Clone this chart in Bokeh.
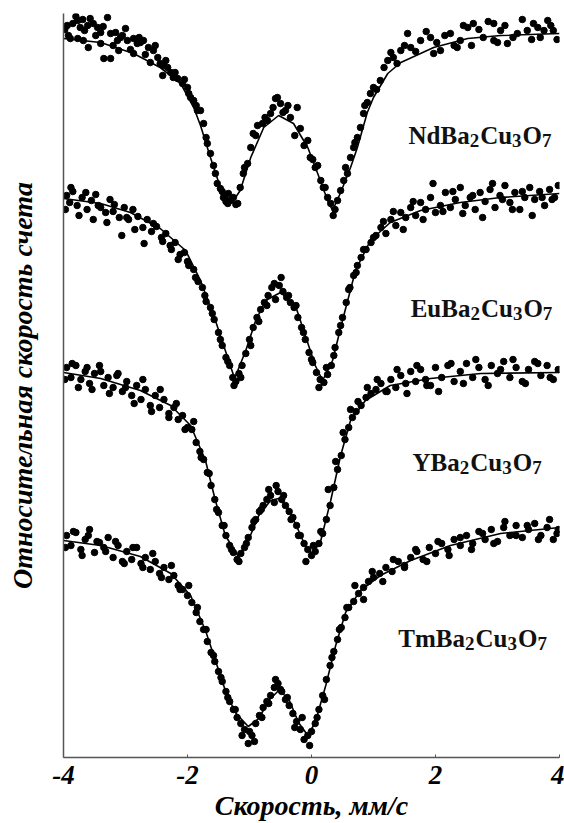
from bokeh.plotting import figure
from bokeh.models import Range1d, Label, FixedTicker
from bokeh.embed import file_html
from bokeh.resources import INLINE

# ---- data: velocity (mm/s) and relative count rate (arbitrary units, spectra stacked) ----
nd_fit_v = [-4.00, -3.40, -2.87, -2.44, -2.11, -1.90, -1.79, -1.63, -1.47, -1.29, -1.15, -0.98, -0.77, -0.53,
            -0.29, -0.06, 0.10, 0.26, 0.34, 0.47, 0.63, 0.74, 0.90, 1.00, 1.23, 1.44, 1.97, 2.52, 3.05, 4.00]
nd_fit_y = [719, 715, 704, 690, 674, 650, 632, 600, 570, 554, 567, 600, 630, 642,
            634, 610, 584, 557, 547, 565, 590, 610, 645, 660, 684, 695, 710, 719, 722, 724]

nd_pts_v = [-3.94, -3.85, -3.77, -3.69, -3.73, -3.61, -3.52, -3.45, -3.40, -3.29, -3.24, -3.16, -3.13, -3.08,
            -3.00, -2.97, -2.87, -2.81, -2.76, -2.71, -2.63, -2.55, -2.48, -2.44, -2.39, -2.32, -2.27, -2.23,
            -2.16, -2.08, -2.00, -1.95, -1.90, -1.84, -3.60, -3.40, -3.35, -3.24, -3.11, -2.87, -2.60, -2.40,
            -3.89, -3.77, -3.68, -1.79, -1.74, -1.68, -1.63, -1.55, -1.52, -1.47, -1.42, -1.35, -1.31, -1.26,
            -1.19, -1.34, -1.15, -1.10, -1.03, -0.98, -0.94, -0.87, -0.79, -0.71, -0.66, -0.58, -0.50, -0.42,
            -0.34, -0.23, -0.18, -0.06, -0.02, 0.06, 0.15, 0.19, 0.26, 0.31, 0.35, 0.42, 0.47, 0.52, 0.58,
            0.63, 0.68, 0.74, 0.79, 0.84, 0.90, 0.95, 1.00, 1.11, 1.23, 1.32, 1.44, 1.55, 1.60, 1.76, 1.92,
            1.97, 2.08, 2.24, 2.35, 2.52, 2.61, 2.77, 2.94, 3.05, 3.16, 3.32, 3.48, 3.58, 3.69, 3.81, 3.90,
            2.94, 2.40,
            -3.98, -3.92, -3.80, -3.66, -3.57, -3.48, -3.36, -3.20, -3.05, -2.92, -2.78, -2.68, -2.52, -2.35,
            -2.20, -2.05, -1.98, -1.86, -1.70, -1.58, -1.44, -1.38, -1.22, -1.08, -0.90, -0.75, -0.62, -0.55,
            -0.46, -0.38, -0.27, -0.12, 0.02, 0.10, 0.22, 0.38, 0.55, 0.70, 0.86, 1.05, 1.17, 1.28, 1.38,
            1.50, 1.68, 1.85, 2.02, 2.15, 2.30, 2.45, 2.58, 2.70, 2.85, 3.00, 3.12, 3.25, 3.40, 3.55, 3.65,
            3.75, 3.86, 3.96]
nd_pts_y = [732, 734, 737, 738, 730, 732, 734, 730, 725, 740, 724, 725, 717, 720,
            729, 717, 719, 714, 715, 717, 710, 707, 700, 694, 692, 690, 685, 680,
            679, 674, 670, 660, 657, 647, 710, 714, 699, 699, 707, 704, 695, 682,
            719, 719, 717, 647, 634, 614, 604, 584, 574, 569, 560, 554, 557, 560,
            554, 564, 570, 584, 594, 610, 624, 632, 634, 637, 644, 659, 654, 647,
            640, 650, 629, 617, 600, 590, 577, 570, 560, 554, 542, 557, 567, 577, 584,
            600, 610, 620, 630, 644, 655, 664, 670, 677, 697, 700, 707, 724, 710, 717, 720,
            704, 707, 724, 710, 730, 734, 720, 717, 727, 714, 724, 727, 734, 720, 737, 727,
            734, 717,
            728, 722, 741, 727, 739, 722, 731, 712, 722, 708, 720, 703, 712, 697,
            685, 678, 664, 652, 620, 592, 566, 556, 553, 590, 622, 640, 650, 660,
            645, 652, 622, 612, 598, 592, 570, 548, 590, 615, 652, 668, 690, 705, 694,
            712, 706, 726, 715, 722, 712, 732, 712, 728, 736, 715, 732, 720, 738, 718, 730,
            727, 732, 718]

eu_fit_v = [-4.00, -3.40, -2.92, -2.44, -2.03, -1.79, -1.55, -1.39, -1.24, -1.06, -0.90, -0.74, -0.50,
            -0.26, -0.10, 0.06, 0.18, 0.34, 0.50, 0.71, 0.95, 1.27, 1.76, 2.40, 3.05, 4.00]
eu_fit_y = [559, 554, 545, 529, 507, 477, 437, 407, 379, 407, 437, 457, 465,
            452, 422, 392, 377, 397, 437, 487, 517, 535, 547, 555, 560, 564]

eu_pts_v = [-3.95, -3.90, -3.85, -3.78, -3.70, -3.62, -3.55, -3.48, -3.40, -3.32, -3.25, -3.18, -3.10, -3.02,
            -2.95, -2.88, -2.80, -2.72, -2.65, -2.58, -2.50, -2.42, -2.35, -2.28, -2.20, -2.12, -2.05, -1.98,
            -1.90, -1.83, -1.76, -1.70, -1.63, -1.57, -1.50, -1.44, -1.38, -1.32, -1.27, -1.22, -1.17, -1.12,
            -1.06, -1.00, -0.94, -0.88, -0.82, -0.76, -0.70, -0.64, -0.58, -0.52, -0.46, -0.40, -0.34, -0.28,
            -0.22, -0.16, -0.10, -0.04, 0.02, 0.08, 0.14, 0.20, 0.26, 0.32, 0.38, 0.44, 0.50, 0.56, 0.62,
            0.68, 0.74, 0.80, 0.88, 0.96, 1.04, 1.12, 1.20, 1.28, 1.36, 1.44, 1.52, 1.60, 1.68, 1.76, 1.84,
            1.92, 2.00, 2.08, 2.16, 2.24, 2.32, 2.40, 2.48, 2.56, 2.64, 2.72, 2.80, 2.88, 2.96, 3.04, 3.12,
            3.20, 3.28, 3.36, 3.44, 3.52, 3.60, 3.68, 3.76, 3.84, 3.92, 3.98,
            -3.97, -3.88, -3.75, -3.64, -3.52, -3.44, -3.30, -3.20, -3.06, -2.98, -2.85, -2.70, -2.55, -2.40,
            -2.26, -2.15, -2.00, -1.87, -1.72, -1.60, -1.47, -1.35, -1.25, -1.14, -0.98, -0.85, -0.72, -0.60,
            -0.49, -0.37, -0.25, -0.13, 0.00, 0.12, 0.24, 0.36, 0.47, 0.60, 0.72, 0.84, 1.00, 1.16, 1.32,
            1.48, 1.64, 1.80, 1.96, 2.12, 2.28, 2.44, 2.60, 2.76, 2.92, 3.08, 3.24, 3.40, 3.56, 3.72, 3.88]
eu_pts_y = [562, 555, 566, 552, 560, 548, 557, 563, 550, 545, 558, 553, 540, 550,
            538, 548, 541, 530, 538, 526, 531, 520, 524, 512, 515, 503, 505, 492,
            488, 476, 470, 456, 450, 438, 425, 412, 400, 392, 380, 376, 384, 392,
            404, 418, 430, 440, 448, 455, 462, 470, 458, 472, 466, 460, 455, 450,
            440, 430, 418, 405, 395, 385, 378, 375, 383, 392, 410, 425, 440, 455, 470,
            482, 492, 500, 508, 515, 522, 530, 524, 538, 532, 545, 540, 550, 542, 555, 548,
            560, 545, 552, 565, 550, 558, 570, 552, 560, 548, 565, 556, 568, 550, 562, 572,
            555, 565, 548, 560, 570, 558, 566, 552, 568, 560, 572,
            548, 570, 542, 565, 538, 552, 535, 546, 522, 540, 528, 514, 534, 516,
            508, 498, 496, 480, 462, 444, 418, 396, 372, 380, 412, 436, 452, 474,
            480, 462, 452, 425, 398, 370, 390, 402, 432, 468, 485, 508, 520, 536, 546,
            528, 556, 538, 574, 546, 566, 544, 562, 540, 574, 558, 548, 566, 542, 560, 558]

y_fit_v = [-4.00, -3.40, -2.76, -2.27, -1.95, -1.71, -1.55, -1.39, -1.18, -1.02, -0.85, -0.66, -0.53,
           -0.37, -0.21, -0.08, 0.02, 0.15, 0.31, 0.47, 0.63, 0.87, 1.27, 1.92, 2.73, 4.00]
y_fit_y = [385, 379, 367, 352, 332, 297, 257, 222, 201, 217, 242, 257, 259,
           249, 227, 209, 204, 217, 257, 302, 337, 357, 372, 379, 384, 385]

y_pts_v = [-3.95, -3.88, -3.80, -3.72, -3.65, -3.58, -3.50, -3.42, -3.35, -3.28, -3.20, -3.12, -3.05, -2.98,
           -2.90, -2.82, -2.75, -2.68, -2.60, -2.52, -2.45, -2.38, -2.30, -2.22, -2.15, -2.08, -2.00, -1.93,
           -1.86, -1.80, -1.74, -1.68, -1.62, -1.56, -1.50, -1.44, -1.38, -1.32, -1.26, -1.20, -1.14, -1.08,
           -1.02, -0.96, -0.90, -0.84, -0.78, -0.72, -0.66, -0.60, -0.54, -0.48, -0.42, -0.36, -0.30, -0.24,
           -0.18, -0.12, -0.06, 0.00, 0.06, 0.12, 0.18, 0.24, 0.30, 0.36, 0.42, 0.48, 0.54, 0.60, 0.66,
           0.72, 0.80, 0.88, 0.96, 1.04, 1.12, 1.20, 1.28, 1.36, 1.44, 1.52, 1.60, 1.68, 1.76, 1.84, 1.92,
           2.00, 2.10, 2.20, 2.30, 2.40, 2.50, 2.60, 2.70, 2.80, 2.90, 3.00, 3.10, 3.20, 3.30, 3.40, 3.50,
           3.60, 3.70, 3.80, 3.90, 3.98,
           -3.98, -3.86, -3.76, -3.62, -3.54, -3.40, -3.26, -3.14, -3.00, -2.86, -2.72, -2.58, -2.44, -2.30,
           -2.18, -2.04, -1.90, -1.78, -1.65, -1.53, -1.41, -1.29, -1.17, -1.05, -0.93, -0.81, -0.69, -0.57,
           -0.45, -0.33, -0.21, -0.09, 0.03, 0.15, 0.27, 0.39, 0.51, 0.63, 0.75, 0.90, 1.06, 1.22, 1.38,
           1.54, 1.70, 1.86, 2.05, 2.25, 2.45, 2.65, 2.85, 3.05, 3.25, 3.45, 3.65, 3.85]
y_pts_y = [390, 380, 392, 378, 386, 374, 384, 392, 372, 380, 370, 384, 366, 376,
           362, 372, 358, 368, 352, 362, 350, 358, 344, 350, 338, 342, 330, 328,
           315, 306, 298, 285, 272, 258, 245, 232, 222, 212, 205, 198, 204, 210,
           220, 230, 238, 246, 252, 258, 262, 255, 266, 258, 252, 246, 240, 232,
           222, 214, 208, 202, 206, 214, 224, 238, 252, 270, 288, 302, 318, 330, 340,
           346, 352, 360, 364, 368, 374, 366, 378, 370, 382, 374, 386, 376, 388, 378, 372,
           390, 380, 392, 376, 386, 394, 380, 390, 378, 392, 384, 396, 380, 390, 376, 388,
           396, 382, 392, 378, 388,
           378, 394, 370, 390, 368, 386, 364, 382, 370, 354, 378, 346, 368, 340,
           354, 328, 336, 300, 284, 248, 232, 208, 196, 214, 236, 248, 268, 272,
           262, 238, 222, 196, 212, 226, 268, 296, 325, 348, 356, 370, 378, 366, 388,
           364, 392, 372, 366, 394, 374, 398, 372, 388, 398, 374, 394, 380]

tm_fit_v = [-4.00, -3.40, -2.76, -2.27, -1.95, -1.71, -1.55, -1.39, -1.23, -1.02, -0.85, -0.69, -0.53,
            -0.37, -0.21, -0.06, 0.06, 0.23, 0.39, 0.55, 0.79, 1.11, 1.60, 2.24, 3.05, 4.00]
tm_fit_y = [217, 212, 201, 184, 162, 127, 97, 67, 45, 31, 39, 57, 67,
            59, 35, 22, 35, 72, 112, 145, 167, 182, 197, 212, 224, 230]

tm_pts_v = [-3.95, -3.88, -3.80, -3.72, -3.65, -3.58, -3.50, -3.42, -3.35, -3.28, -3.20, -3.12, -3.05, -2.98,
            -2.90, -2.82, -2.75, -2.68, -2.60, -2.52, -2.45, -2.38, -2.30, -2.22, -2.15, -2.08, -2.00, -1.93,
            -1.86, -1.80, -1.74, -1.68, -1.62, -1.56, -1.50, -1.44, -1.38, -1.32, -1.26, -1.20, -1.14, -1.08,
            -1.02, -0.96, -0.90, -0.84, -0.78, -0.72, -0.66, -0.60, -0.54, -0.48, -0.42, -0.36, -0.30, -0.24,
            -0.18, -0.12, -0.06, 0.00, 0.06, 0.12, 0.18, 0.24, 0.30, 0.36, 0.42, 0.48, 0.54, 0.60, 0.68,
            0.76, 0.84, 0.92, 1.00, 1.10, 1.20, 1.30, 1.40, 1.50, 1.60, 1.70, 1.80, 1.90, 2.00, 2.10, 2.20,
            2.30, 2.40, 2.50, 2.60, 2.70, 2.80, 2.90, 3.00, 3.10, 3.20, 3.30, 3.40, 3.50, 3.60, 3.70, 3.80,
            3.90, 3.98,
            -3.97, -3.84, -3.70, -3.60, -3.46, -3.32, -3.16, -3.02, -2.88, -2.72, -2.56, -2.42, -2.26, -2.12,
            -1.98, -1.84, -1.70, -1.58, -1.46, -1.35, -1.23, -1.12, -1.00, -0.92, -0.80, -0.69, -0.58, -0.50,
            -0.39, -0.27, -0.15, -0.03, 0.09, 0.21, 0.33, 0.45, 0.57, 0.70, 0.84, 0.98, 1.15, 1.32, 1.50,
            1.68, 1.86, 2.04, 2.22, 2.40, 2.58, 2.76, 2.94, 3.12, 3.30, 3.48, 3.66, 3.84, 3.96]
tm_pts_y = [222, 212, 225, 208, 218, 228, 205, 215, 210, 220, 200, 212, 196, 206,
            198, 210, 194, 200, 188, 196, 184, 190, 178, 182, 172, 168, 162, 155,
            145, 136, 128, 116, 105, 96, 86, 76, 66, 56, 48, 40, 34, 28,
            14, 22, 34, 42, 50, 56, 62, 70, 74, 66, 58, 52, 44, 36,
            28, 18, 22, 26, 34, 48, 62, 78, 92, 106, 118, 130, 140, 150, 156,
            164, 170, 176, 180, 184, 190, 186, 196, 192, 200, 206, 198, 210, 204, 214, 208,
            218, 212, 222, 214, 226, 218, 228, 216, 230, 222, 232, 220, 228, 234, 222, 230,
            218, 228,
            210, 226, 202, 222, 216, 206, 216, 194, 210, 190, 204, 180, 192, 168,
            172, 150, 128, 102, 80, 60, 48, 22, 26, 16, 40, 54, 78, 68,
            60, 30, 40, 12, 40, 58, 100, 128, 150, 172, 158, 186, 176, 198, 190,
            208, 196, 216, 202, 220, 208, 224, 214, 236, 222, 232, 218, 238, 224]

# sample names (formula prefix + Ba2Cu3O7) and their anchor positions in data units
sample_prefixes = ["NdBa", "EuBa", "YBa", "TmBa"]
name_v = [1.565, 1.60, 1.63, 1.40]
name_y = [622, 449, 295, 119]

x_ticks = [-4, -2, 0, 2, 4]
x_tick_labels = ["-4", "-2", "0", "2", "4"]

SERIF = "Liberation Serif"
MAIN_PX = 25
SUB_PX = 19
# Times/Liberation Serif Bold advance widths (em)
ADV = {"N": .722, "d": .556, "B": .667, "a": .5, "C": .722, "u": .556, "O": .778,
       "E": .667, "Y": .722, "T": .667, "m": .833}


def text_w(s, px):
    return sum(ADV.get(ch, .5) for ch in s) * px


p = figure(width=564, height=823, output_backend="svg", toolbar_location=None,
           x_range=Range1d(-4, 4), y_range=Range1d(0, 744),
           min_border_left=63, min_border_right=5, min_border_top=13, min_border_bottom=66)
p.xgrid.visible = False
p.ygrid.visible = False
p.outline_line_color = None
p.background_fill_color = "white"

for fv, fy, pv, py in [(nd_fit_v, nd_fit_y, nd_pts_v, nd_pts_y),
                       (eu_fit_v, eu_fit_y, eu_pts_v, eu_pts_y),
                       (y_fit_v, y_fit_y, y_pts_v, y_pts_y),
                       (tm_fit_v, tm_fit_y, tm_pts_v, tm_pts_y)]:
    p.scatter(pv, py, size=6.5, color="black")
    p.line(fv, fy, line_color="black", line_width=1.6)

for prefix, nv, ny in zip(sample_prefixes, name_v, name_y):
    parts = [(prefix, False), ("2", True), ("Cu", False), ("3", True), ("O", False), ("7", True)]
    off = 0.0
    for txt, sub in parts:
        px = SUB_PX if sub else MAIN_PX
        p.add_layout(Label(x=nv, y=ny, x_offset=off, y_offset=-5 if sub else 0, text=txt,
                           text_font=SERIF, text_font_style="bold", text_font_size=f"{px}px",
                           text_color="#111111", text_baseline="alphabetic"))
        off += text_w(txt, px) + (1 if sub else 0)

xa = p.xaxis[0]
xa.ticker = FixedTicker(ticks=x_ticks)
xa.major_label_overrides = dict(zip(x_ticks, x_tick_labels))
xa.minor_tick_line_color = None
xa.major_tick_in = 3
xa.major_tick_out = 0
xa.axis_line_color = "#555555"
xa.axis_line_width = 1.5
xa.major_tick_line_color = "#555555"
xa.major_label_text_font = SERIF
xa.major_label_text_font_style = "bold italic"
xa.major_label_text_font_size = "27px"
xa.major_label_text_color = "black"
xa.major_label_standoff = 8
xa.axis_label = "Скорость, мм/с"
xa.axis_label_text_font = SERIF
xa.axis_label_text_font_style = "bold italic"
xa.axis_label_text_font_size = "28px"
xa.axis_label_text_color = "black"
xa.axis_label_standoff = 3

ya = p.yaxis[0]
ya.ticker = FixedTicker(ticks=[])
ya.minor_tick_line_color = None
ya.major_tick_in = 0
ya.major_tick_out = 0
ya.axis_line_color = "#555555"
ya.axis_line_width = 1.5
ya.axis_label = "Относительная скорость счета"
ya.axis_label_text_font = SERIF
ya.axis_label_text_font_style = "bold italic"
ya.axis_label_text_font_size = "28px"
ya.axis_label_text_color = "black"
ya.axis_label_standoff = 26

open("out.html", "w").write(file_html(p, INLINE))
